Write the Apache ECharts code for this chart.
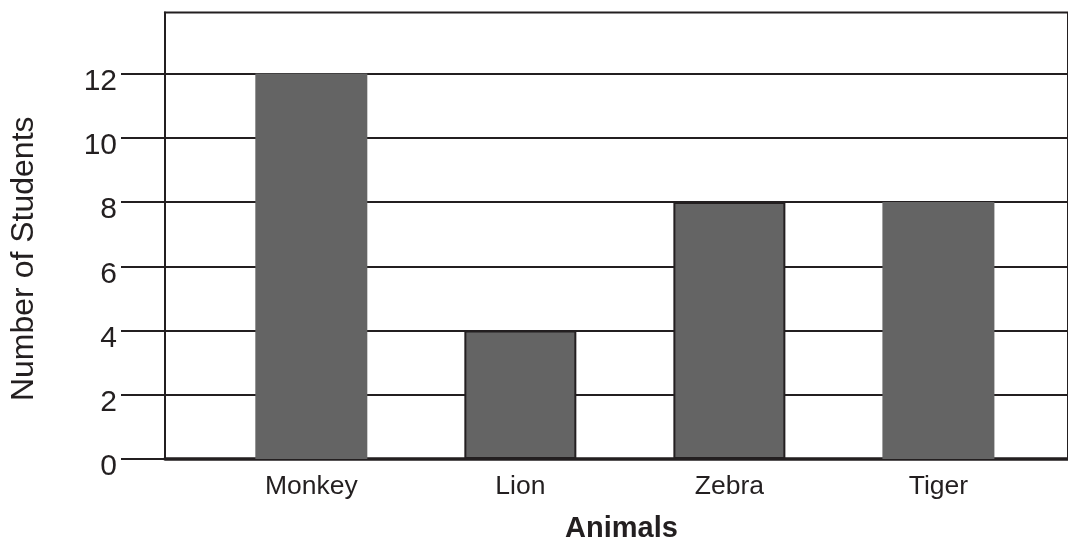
<!DOCTYPE html>
<html>
<head>
<meta charset="utf-8">
<script src="https://cdn.jsdelivr.net/npm/echarts@6/dist/echarts.min.js"></script>
<style>
html,body{margin:0;padding:0;background:#fff;}
#chart{width:1068px;height:548px;}
</style>
</head>
<body>
<div id="chart"></div>
<script>
const categories = ['Monkey', 'Lion', 'Zebra', 'Tiger'];
const students = [12, 4, 8, 8];
const yTickValues = [0, 2, 4, 6, 8, 10, 12];
const outlinedCategories = ['Lion', 'Zebra'];
const xTitle = 'Animals';
const yTitle = 'Number of Students';

const INK = '#231f20';
const BAR = '#646464';
const FONT = '"Liberation Sans", Arial, sans-serif';

const barData = categories.map((c, i) => ({
  value: [i, students[i]],
  itemStyle: outlinedCategories.includes(c) ? { borderColor: INK, borderWidth: 2 } : { borderWidth: 0 }
}));

const chart = echarts.init(document.getElementById('chart'), null, { renderer: 'canvas' });
chart.setOption({
  animation: false,
  backgroundColor: '#fff',
  grid: {
    show: true,
    left: 164, right: -4, top: 12.5, bottom: 86,
    borderColor: INK, borderWidth: 2, backgroundColor: 'transparent',
    containLabel: false
  },
  xAxis: {
    type: 'value',
    min: -0.7, max: 3.62,
    name: xTitle,
    nameLocation: 'middle',
    nameGap: 55,
    nameTextStyle: { fontFamily: FONT, fontSize: 29, fontWeight: 'bold', color: INK, padding: [0, 0, 0, 10] },
    axisLine: { show: true, onZero: false, lineStyle: { color: INK, width: 3.5 } },
    axisTick: { show: false },
    splitLine: { show: false },
    axisLabel: {
      customValues: categories.map((c, i) => i),
      formatter: v => categories[Math.round(v)] || '',
      fontFamily: FONT, fontSize: 26.5, color: INK, margin: 14
    }
  },
  yAxis: {
    type: 'value',
    min: 0, max: 13.9, interval: 2,
    name: yTitle,
    nameLocation: 'middle',
    nameRotate: 90,
    nameGap: 125,
    nameTextStyle: { fontFamily: FONT, fontSize: 32, color: INK, padding: [0, 46, 0, 0] },
    axisLine: { show: true, onZero: false, lineStyle: { color: INK, width: 2 } },
    axisTick: { show: true, customValues: yTickValues, length: 44, lineStyle: { color: INK, width: 2.2 } },
    axisLabel: {
      customValues: yTickValues,
      fontFamily: FONT, fontSize: 30, color: INK, margin: 48,
      verticalAlign: 'top', lineHeight: 16
    },
    splitLine: { show: true, lineStyle: { color: INK, width: 2.2 } }
  },
  series: [{
    type: 'bar',
    data: barData,
    barWidth: 112,
    itemStyle: { color: BAR },
    emphasis: { disabled: true }
  }]
});
</script>
</body>
</html>
